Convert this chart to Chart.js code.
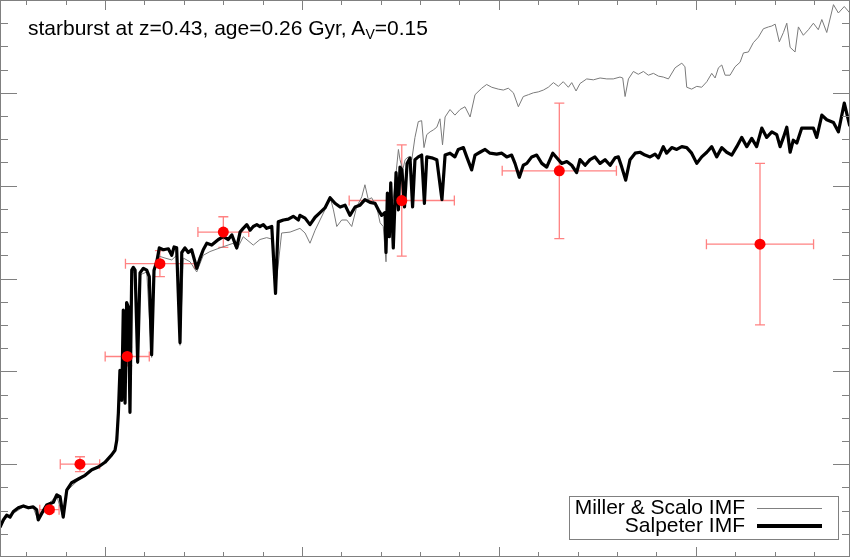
<!DOCTYPE html>
<html>
<head>
<meta charset="utf-8">
<title>starburst SED</title>
<script src="https://cdn.jsdelivr.net/npm/chart.js@4.4.1/dist/chart.umd.min.js"></script>
<style>
  html, body { margin: 0; padding: 0; background: #fff; }
  #wrap { position: relative; width: 850px; height: 557px; font-family: "Liberation Sans", Arial, Helvetica, sans-serif; color: #000; }
  #sed { position: absolute; left: 0; top: 0; }
  #title { position: absolute; left: 28px; top: 16px; font-size: 21px; line-height: 24px; white-space: nowrap; }
  #title sub { font-size: 14px; vertical-align: -4px; line-height: 0; }
  #legend { position: absolute; left: 569px; top: 496px; width: 270px; height: 44px; box-sizing: border-box; border: 1px solid #808080; background: #fff; }
  #legend .lbl { position: absolute; left: 0; width: 175px; text-align: right; font-size: 21px; line-height: 21px; white-space: nowrap; }
  #legend .smp { position: absolute; left: 187px; width: 65px; }
</style>
</head>
<body>
<div id="wrap">
  <canvas id="sed" width="850" height="557"></canvas>
  <div id="title">starburst at z=0.43, age=0.26 Gyr, A<sub>V</sub>=0.15</div>
  <div id="legend">
    <div class="lbl" style="top:-1px">Miller &amp; Scalo IMF</div>
    <div class="smp" style="top:11px; border-top:1px solid #808080"></div>
    <div class="lbl" style="top:17px">Salpeter IMF</div>
    <div class="smp" style="top:27px; border-top:4px solid #000"></div>
  </div>
</div>
<script>
// observed wavelength (Angstrom) and flux for the Salpeter IMF model
const salpeterWave = [2335, 2420, 2505, 2590, 2675, 2800, 2930, 3055, 3180, 3265, 3305, 3395, 3520, 3690, 3775, 3860, 3940, 4030, 4155, 4325,
  4495, 4665, 4830, 5000, 5170, 5255, 5300, 5340, 5380, 5425, 5465, 5510, 5550, 5595, 5635, 5680, 5720, 5765, 5830, 5890,
  5975, 6060, 6125, 6185, 6245, 6315, 6380, 6480, 6610, 6695, 6755, 6820, 6905, 6950, 7030, 7115, 7200, 7330, 7415, 7495,
  7585, 7710, 7795, 7880, 8005, 8130, 8220, 8345, 8430, 8510, 8600, 8685, 8765, 8855, 8935, 9020, 9105, 9235, 9330, 9400,
  9530, 9655, 9780, 9910, 9950, 10080, 10205, 10335, 10460, 10585, 10715, 10840, 10970, 11095, 11220, 11350, 11475, 11600, 11730, 11855,
  11940, 12025, 12110, 12135, 12170, 12220, 12255, 12320, 12390, 12450, 12490, 12540, 12605, 12670, 12745, 12810, 12870, 12955, 13040, 13110,
  13170, 13295, 13425, 13555, 13635, 13760, 13885, 13970, 14100, 14185, 14310, 14395, 14520, 14650, 14775, 14945, 15075, 15200, 15325, 15410,
  15520, 15620, 15710, 15835, 15960, 16090, 16215, 16370, 16470, 16595, 16725, 16850, 16975, 17060, 17190, 17315, 17440, 17570, 17695, 17825,
  17950, 18035, 18120, 18220, 18330, 18460, 18585, 18710, 18840, 18965, 19050, 19175, 19260, 19390, 19515, 19645, 19770, 19895, 20025, 20150,
  20280, 20405, 20530, 20660, 20785, 20915, 21040, 21165, 21295, 21420, 21545, 21675, 21800, 21930, 22055, 22140, 22225, 22310, 22395, 22475,
  22565, 22690, 22860, 22985, 23070, 23200, 23325, 23495, 23620, 23770, 23910];
const salpeterFlux = [0.32, 0.40, 0.45, 0.43, 0.49, 0.53, 0.55, 0.53, 0.54, 0.51, 0.40, 0.47, 0.56, 0.59, 0.67, 0.65, 0.43, 0.72, 0.80, 0.84,
  0.88, 0.94, 0.97, 1.02, 1.10, 1.15, 1.26, 1.55, 2.01, 1.69, 2.66, 1.66, 2.74, 2.69, 1.56, 3.09, 3.12, 3.09, 2.10, 3.06,
  3.11, 3.09, 3.02, 2.18, 3.09, 3.18, 3.33, 3.31, 3.32, 3.25, 3.34, 3.33, 2.31, 3.28, 3.33, 3.28, 3.31, 3.11, 3.22, 3.31,
  3.38, 3.36, 3.39, 3.42, 3.45, 3.42, 3.47, 3.33, 3.50, 3.54, 3.58, 3.52, 3.56, 3.58, 3.56, 3.58, 3.54, 3.56, 2.84, 3.61,
  3.63, 3.64, 3.67, 3.63, 3.68, 3.65, 3.58, 3.66, 3.71, 3.76, 3.87, 3.81, 3.77, 3.79, 3.68, 3.77, 3.79, 3.85, 3.82, 3.81,
  3.74, 3.68, 3.71, 3.28, 3.92, 3.45, 4.03, 3.33, 4.14, 3.74, 4.20, 4.17, 3.77, 4.24, 4.30, 3.77, 4.28, 4.31, 4.33, 3.81,
  4.31, 4.30, 4.28, 3.85, 4.33, 4.35, 4.31, 4.39, 4.41, 4.31, 4.17, 4.33, 4.36, 4.39, 4.35, 4.34, 4.35, 4.31, 4.33, 4.24,
  4.09, 4.22, 4.24, 4.31, 4.33, 4.24, 4.20, 4.35, 4.30, 4.24, 4.26, 4.22, 4.14, 4.28, 4.22, 4.28, 4.31, 4.24, 4.28, 4.22,
  4.30, 4.31, 4.20, 4.06, 4.28, 4.35, 4.36, 4.33, 4.31, 4.34, 4.30, 4.42, 4.35, 4.41, 4.39, 4.42, 4.41, 4.35, 4.24, 4.31,
  4.36, 4.42, 4.31, 4.41, 4.36, 4.33, 4.42, 4.52, 4.42, 4.51, 4.42, 4.62, 4.52, 4.58, 4.55, 4.42, 4.52, 4.63, 4.36, 4.49,
  4.46, 4.62, 4.62, 4.62, 4.52, 4.76, 4.71, 4.68, 4.58, 4.89, 4.64];

// Miller & Scalo IMF model
const millerWave = [2335, 2505, 2675, 2925, 3180, 3305, 3520, 3775, 3940, 4030, 4325, 4665, 5000, 5255, 5340, 5380, 5425, 5465, 5510, 5550,
  5635, 5680, 5765, 5830, 5890, 6060, 6185, 6245, 6380, 6525, 6695, 6820, 6905, 6990, 7160, 7330, 7495, 7665, 7920, 8260,
  8345, 8510, 8765, 8935, 9105, 9275, 9330, 9485, 9700, 9950, 10080, 10205, 10335, 10460, 10585, 10715, 10800, 10885, 11010, 11140,
  11265, 11390, 11520, 11600, 11685, 11770, 11900, 11985, 12065, 12135, 12195, 12280, 12365, 12450, 12490, 12560, 12620, 12700, 12790, 12870,
  12955, 13040, 13100, 13170, 13255, 13335, 13425, 13505, 13570, 13635, 13760, 13885, 14015, 14140, 14270, 14395, 14565, 14690, 14820, 14985,
  15115, 15240, 15370, 15495, 15620, 15750, 15875, 16000, 16130, 16255, 16385, 16510, 16635, 16765, 16850, 16960, 17060, 17230, 17400, 17570,
  17740, 17905, 18075, 18145, 18205, 18290, 18415, 18540, 18670, 18795, 18925, 19050, 19175, 19305, 19475, 19645, 19725, 19770, 19895, 20025,
  20150, 20280, 20405, 20490, 20575, 20660, 20745, 20870, 20995, 21125, 21210, 21335, 21460, 21590, 21715, 21845, 21930, 22015, 22120, 22225,
  22310, 22395, 22520, 22605, 22730, 22860, 22985, 23110, 23200, 23325, 23495, 23620, 23770, 23910];
const millerFlux = [0.31, 0.44, 0.47, 0.54, 0.53, 0.39, 0.55, 0.66, 0.42, 0.71, 0.83, 0.93, 1.01, 1.14, 1.53, 1.99, 1.67, 2.64, 1.64, 2.72,
  1.54, 3.07, 3.07, 2.08, 3.04, 3.07, 2.15, 3.06, 3.24, 3.22, 3.20, 3.25, 2.28, 3.22, 3.18, 3.07, 3.25, 3.29, 3.33, 3.38,
  3.31, 3.45, 3.36, 3.42, 3.44, 3.42, 2.88, 3.49, 3.50, 3.54, 3.49, 3.38, 3.52, 3.63, 3.74, 3.88, 3.74, 3.56, 3.63, 3.63,
  3.56, 3.77, 3.88, 4.01, 3.85, 3.87, 3.77, 3.60, 3.56, 3.18, 3.85, 3.71, 4.03, 4.39, 4.28, 4.17, 4.28, 4.31, 4.28, 4.52,
  4.69, 4.70, 4.41, 4.55, 4.58, 4.60, 4.63, 4.72, 4.44, 4.74, 4.82, 4.76, 4.82, 4.85, 4.74, 4.98, 5.05, 5.09, 5.06, 5.04,
  5.03, 5.05, 5.00, 4.85, 4.96, 4.98, 5.00, 5.01, 5.03, 5.06, 5.11, 5.07, 5.12, 5.06, 5.11, 5.02, 5.10, 5.15, 5.14, 5.16,
  5.15, 5.15, 5.17, 5.16, 4.96, 5.15, 5.23, 5.20, 5.23, 5.19, 5.21, 5.18, 5.17, 5.15, 5.27, 5.32, 5.28, 5.06, 5.04, 5.07,
  5.06, 5.12, 5.21, 5.16, 5.27, 5.30, 5.19, 5.19, 5.28, 5.33, 5.43, 5.44, 5.54, 5.60, 5.69, 5.71, 5.72, 5.74, 5.55, 5.65,
  5.75, 5.49, 5.44, 5.71, 5.62, 5.68, 5.75, 5.68, 5.79, 5.65, 5.95, 5.86, 5.93, 5.86];

// broad-band photometry (U B V R I J H K) with errors
const photWave = [3590, 4365, 5565, 6395, 8005, 12535, 16535, 21630];
const photWaveErr = [245, 500, 560, 875, 645, 1335, 1450, 1360];
const photFlux = [0.51, 1.00, 2.16, 3.16, 3.50, 3.84, 4.16, 3.37];
const photFluxErr = [0.03, 0.08, 0.10, 0.14, 0.165, 0.60, 0.73, 0.87];

// axis range and tick marks (no labels in the original)
const xRange = [2335, 23915];
const yRange = [0, 6];
const xTicks = [3000, 4000, 5000, 6000, 7000, 8000, 9000, 10000, 11000, 12000, 13000, 14000, 15000, 16000, 17000, 18000, 19000, 20000, 21000, 22000, 23000];
const yTicks = [0.25, 0.5, 0.75, 1, 1.25, 1.5, 1.75, 2, 2.25, 2.5, 2.75, 3, 3.25, 3.5, 3.75, 4, 4.25, 4.5, 4.75, 5, 5.25, 5.5, 5.75];

const toPoints = (xs, ys) => xs.map((x, i) => ({ x: x, y: ys[i] }));

const errorBars = {
  id: "errorBars",
  beforeDatasetsDraw(chart) {
    const { ctx, scales: { x, y } } = chart;
    const cap = 5;
    ctx.save();
    ctx.strokeStyle = "#ff8282";
    ctx.lineWidth = 1.3;
    photWave.forEach((w, i) => {
      const px = x.getPixelForValue(w);
      const py = y.getPixelForValue(photFlux[i]);
      const x0 = x.getPixelForValue(w - photWaveErr[i]);
      const x1 = x.getPixelForValue(w + photWaveErr[i]);
      const y0 = y.getPixelForValue(photFlux[i] - photFluxErr[i]);
      const y1 = y.getPixelForValue(photFlux[i] + photFluxErr[i]);
      ctx.beginPath();
      ctx.moveTo(x0, py); ctx.lineTo(x1, py);
      ctx.moveTo(x0, py - cap); ctx.lineTo(x0, py + cap);
      ctx.moveTo(x1, py - cap); ctx.lineTo(x1, py + cap);
      ctx.moveTo(px, y0); ctx.lineTo(px, y1);
      ctx.moveTo(px - cap, y0); ctx.lineTo(px + cap, y0);
      ctx.moveTo(px - cap, y1); ctx.lineTo(px + cap, y1);
      ctx.stroke();
    });
    ctx.restore();
  },
};

// frame with inward tick marks on all four sides
const frameTicks = {
  id: "frameTicks",
  afterDraw(chart) {
    const { ctx, chartArea: a, scales: { x, y } } = chart;
    ctx.save();
    ctx.strokeStyle = "#808080";
    ctx.lineWidth = 1;
    ctx.strokeRect(a.left + 0.5, a.top + 0.5, a.right - a.left - 1, a.bottom - a.top - 1);
    ctx.beginPath();
    xTicks.forEach(v => {
      const px = Math.round(x.getPixelForValue(v)) + 0.5;
      const len = v % 5000 === 0 ? 10 : 5;
      ctx.moveTo(px, a.bottom); ctx.lineTo(px, a.bottom - len);
      ctx.moveTo(px, a.top); ctx.lineTo(px, a.top + len);
    });
    yTicks.forEach(v => {
      const py = Math.round(y.getPixelForValue(v)) + 0.5;
      const len = Number.isInteger(v) ? 17 : 8;
      ctx.moveTo(a.left, py); ctx.lineTo(a.left + len, py);
      ctx.moveTo(a.right, py); ctx.lineTo(a.right - len, py);
    });
    ctx.stroke();
    ctx.restore();
  },
};

new Chart(document.getElementById("sed"), {
  type: "scatter",
  data: {
    datasets: [
      {
        label: "photometry",
        data: toPoints(photWave, photFlux),
        backgroundColor: "#ff0000",
        borderWidth: 0,
        pointRadius: 5.5,
        showLine: false,
        order: 0,
      },
      {
        label: "Salpeter IMF",
        data: toPoints(salpeterWave, salpeterFlux),
        borderColor: "#000000",
        borderWidth: 3.2,
        pointRadius: 0,
        showLine: true,
        borderJoinStyle: "round",
        order: 1,
      },
      {
        label: "Miller & Scalo IMF",
        data: toPoints(millerWave, millerFlux),
        borderColor: "#7a7a7a",
        borderWidth: 1,
        pointRadius: 0,
        showLine: true,
        order: 2,
      },
    ],
  },
  options: {
    responsive: false,
    animation: false,
    layout: { padding: 0, autoPadding: false },
    plugins: {
      legend: { display: false },
      tooltip: { enabled: false },
    },
    scales: {
      x: { type: "linear", min: xRange[0], max: xRange[1], display: false },
      y: { type: "linear", min: yRange[0], max: yRange[1], display: false },
    },
  },
  plugins: [errorBars, frameTicks],
});
</script>
</body>
</html>
